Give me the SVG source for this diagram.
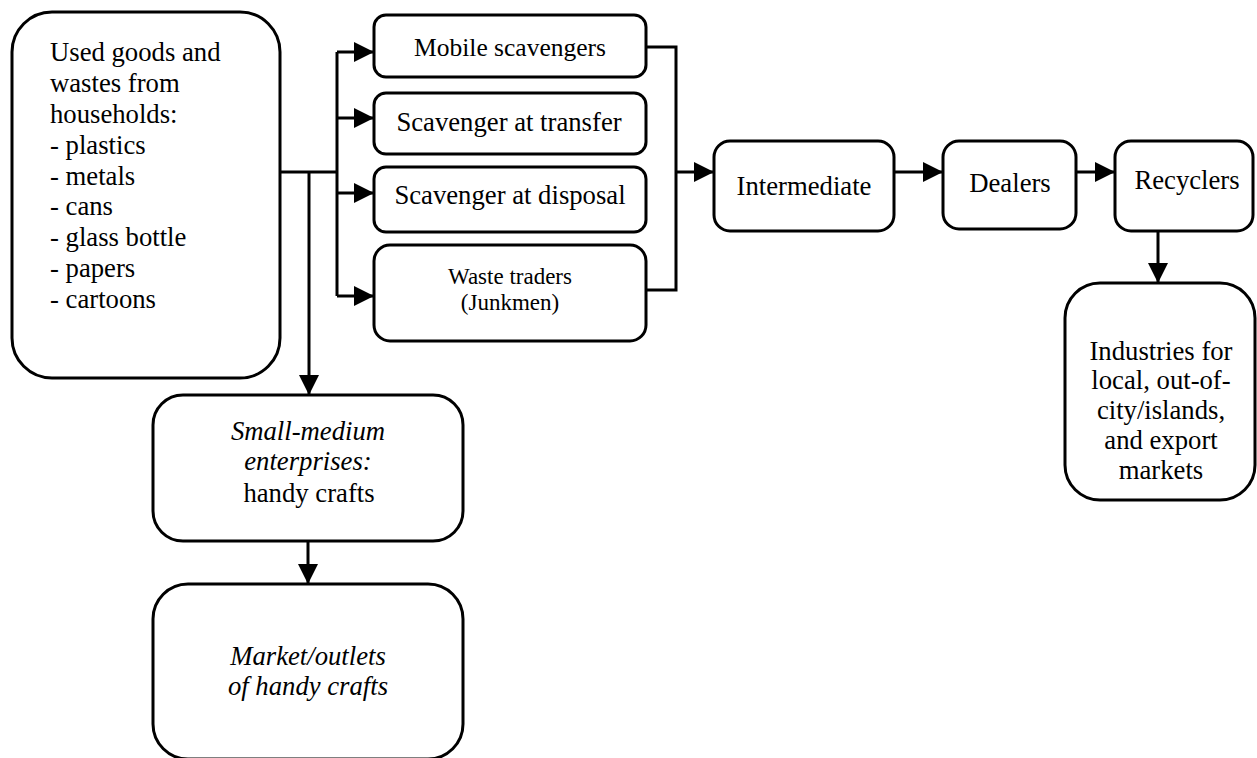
<svg xmlns="http://www.w3.org/2000/svg" width="1257" height="758" viewBox="0 0 1257 758">
<style>
.box{fill:#fff;stroke:#000;stroke-width:3}
.ln{fill:none;stroke:#000;stroke-width:3}
.t{font-family:'Liberation Serif','Times New Roman',serif;font-size:26.7px;fill:#000}
.c{text-anchor:middle}
.sm{font-size:23px}
.it{font-style:italic}
</style>
<defs>
<marker id="ah" markerUnits="userSpaceOnUse" markerWidth="20" markerHeight="20" refX="20" refY="10" orient="auto" viewBox="0 0 20 20">
<path d="M0,0 L20,10 L0,20 Z" fill="#000"/>
</marker>
</defs>
<rect width="1257" height="758" fill="#fff"/>
<g id="connectors">
<path class="ln" d="M280,172 H337"/>
<path class="ln" d="M337,52 V296"/>
<path class="ln" d="M337,52 H374" marker-end="url(#ah)"/>
<path class="ln" d="M337,118 H374" marker-end="url(#ah)"/>
<path class="ln" d="M337,193 H374" marker-end="url(#ah)"/>
<path class="ln" d="M337,296 H374" marker-end="url(#ah)"/>
<path class="ln" d="M309,172 V395" marker-end="url(#ah)"/>
<path class="ln" d="M646,47 H676 V290 H646"/>
<path class="ln" d="M676,172 H714" marker-end="url(#ah)"/>
<path class="ln" d="M894,172 H943" marker-end="url(#ah)"/>
<path class="ln" d="M1076,172 H1115" marker-end="url(#ah)"/>
<path class="ln" d="M1158,231 V283" marker-end="url(#ah)"/>
<path class="ln" d="M308,541 V584" marker-end="url(#ah)"/>
</g>
<g id="households">
<rect class="box" x="12" y="12" width="268" height="366" rx="40"/>
<text class="t" x="50" y="61">Used goods and</text>
<text class="t" x="50" y="92">wastes from</text>
<text class="t" x="50" y="123">households:</text>
<text class="t" x="50" y="154">- plastics</text>
<text class="t" x="50" y="185">- metals</text>
<text class="t" x="50" y="215">- cans</text>
<text class="t" x="50" y="246">- glass bottle</text>
<text class="t" x="50" y="277">- papers</text>
<text class="t" x="50" y="308">- cartoons</text>
</g>
<g id="mobile">
<rect class="box" x="374" y="15" width="272" height="62" rx="12"/>
<text class="t c" x="510" y="56" style="font-size:25.5px">Mobile scavengers</text>
</g>
<g id="transfer">
<rect class="box" x="374" y="93" width="272" height="61" rx="12"/>
<text class="t c" x="509" y="131">Scavenger at transfer</text>
</g>
<g id="disposal">
<rect class="box" x="374" y="167" width="272" height="65" rx="12"/>
<text class="t c" x="510" y="204">Scavenger at disposal</text>
</g>
<g id="traders">
<rect class="box" x="374" y="245" width="272" height="96" rx="16"/>
<text class="t c sm" x="510" y="284">Waste traders</text>
<text class="t c sm" x="510" y="310">(Junkmen)</text>
</g>
<g id="intermediate">
<rect class="box" x="714" y="141" width="180" height="90" rx="16"/>
<text class="t c" x="804" y="195">Intermediate</text>
</g>
<g id="dealers">
<rect class="box" x="943" y="141" width="133" height="88" rx="16"/>
<text class="t c" x="1010" y="192">Dealers</text>
</g>
<g id="recyclers">
<rect class="box" x="1115" y="141" width="138" height="90" rx="16"/>
<text class="t c" x="1187" y="189">Recyclers</text>
</g>
<g id="industries">
<rect class="box" x="1065" y="283" width="190" height="217" rx="35"/>
<text class="t c" x="1161" y="360">Industries for</text>
<text class="t c" x="1161" y="389">local, out-of-</text>
<text class="t c" x="1161" y="419">city/islands,</text>
<text class="t c" x="1161" y="449">and export</text>
<text class="t c" x="1161" y="479">markets</text>
</g>
<g id="sme">
<rect class="box" x="153" y="395" width="310" height="146" rx="30"/>
<text class="t c it" x="308" y="440">Small-medium</text>
<text class="t c it" x="308" y="470">enterprises:</text>
<text class="t c" x="309" y="502">handy crafts</text>
</g>
<g id="market">
<rect class="box" x="153" y="584" width="310" height="175" rx="35"/>
<text class="t c it" x="308" y="665">Market/outlets</text>
<text class="t c it" x="308" y="695">of handy crafts</text>
</g>
</svg>
